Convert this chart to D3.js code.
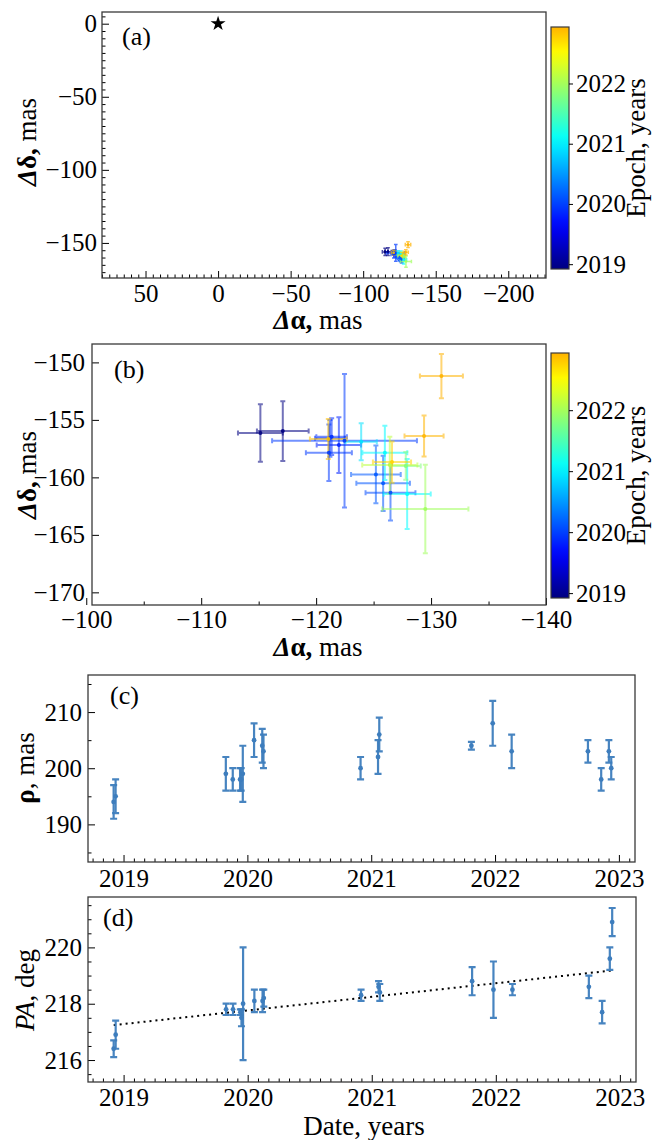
<!DOCTYPE html>
<html><head><meta charset="utf-8">
<script src="https://cdn.jsdelivr.net/npm/d3@7"></script>
<style>body{margin:0;background:#fff} svg text{font-family:'Liberation Serif','Times New Roman',serif;}</style>
</head><body>
<script>
// ---------------- data ----------------
const epochs   = [2018.920, 2018.936, 2019.826, 2019.882, 2019.941, 2019.950, 2019.963, 2020.054, 2020.120, 2020.130,
                  2020.914, 2021.055, 2021.065, 2021.809, 2021.981, 2022.134, 2022.750, 2022.857, 2022.919, 2022.938];
const dRA      = [-115.15, -117.10, -121.98, -121.35, -121.20, -121.11, -122.47, -126.47, -125.83, -125.20,
                  -123.92, -125.98, -127.92, -127.80, -129.50, -126.41, -126.60, -121.06, -129.39, -130.90];
const dRAerr   = [1.95, 2.25, 1.93, 1.33, 1.30, 2.00, 6.30, 2.17, 2.33, 2.16,
                  1.36, 1.95, 2.05, 1.30, 3.75, 2.40, 1.66, 1.60, 1.70, 1.87];
const dDec     = [-156.14, -155.97, -157.19, -156.46, -156.60, -157.86, -156.81, -161.33, -160.52, -159.74,
                  -156.90, -157.86, -161.45, -159.00, -162.75, -158.93, -158.67, -156.67, -156.40, -151.19];
const dDecErr  = [2.50, 2.60, 2.42, 1.60, 1.60, 2.46, 5.80, 2.42, 2.40, 2.52,
                  1.60, 2.36, 3.05, 1.20, 3.84, 2.47, 1.80, 1.74, 1.78, 1.93];
const rho      = [194, 195, 199, 198, 198, 198, 199, 205, 204, 203,
                  200, 202, 206, 204, 208, 203, 203, 198, 203, 200];
const rhoErr   = [3, 3, 3, 2, 2, 2, 5, 3, 3, 3,
                  2, 3, 3, 0.7, 4, 3, 2, 2, 2, 2];
const pa       = [216.4, 216.9, 217.8, 217.8, 217.7, 217.5, 218.0, 218.1, 218.1, 218.2,
                  218.3, 218.6, 218.4, 218.8, 218.5, 218.5, 218.6, 217.7, 219.6, 220.9];
const paErr    = [0.3, 0.5, 0.2, 0.2, 0.1, 0.3, 2.0, 0.4, 0.4, 0.3,
                  0.2, 0.2, 0.3, 0.5, 1.0, 0.2, 0.4, 0.4, 0.4, 0.5];
const primary  = [0, 0];                       // primary star position (a)
const fitDates = [2018.92, 2022.938];          // linear PA trend
const fitPA    = [217.24, 219.18];

const aXTicks = [50, 0, -50, -100, -150, -200];
const aYTicks = [0, -50, -100, -150];
const bXTicks = [-100, -110, -120, -130, -140];
const bYTicks = [-150, -155, -160, -165, -170];
const dateTicks = [2019, 2020, 2021, 2022, 2023];
const cYTicks = [190, 200, 210];
const dYTicks = [216, 218, 220];
const cbTicks = [2019, 2020, 2021, 2022];

// ---------------- setup ----------------
const W = 662, H = 1140;
const FONT = "'Liberation Serif','Times New Roman',serif";
const svg = d3.select("body").append("svg").attr("width", W).attr("height", H)
  .style("font-family", FONT);
svg.append("rect").attr("width", W).attr("height", H).attr("fill", "#fff");

function jet(v) {
  const c = t => Math.max(0, Math.min(1, t));
  const r = c(1.5 - Math.abs(4 * v - 3)), g = c(1.5 - Math.abs(4 * v - 2)), b = c(1.5 - Math.abs(4 * v - 1));
  return d3.rgb(r * 255, g * 255, b * 255).formatHex();
}
const cExt = d3.extent(epochs);
const colorOf = e => jet(0.7 * (e - cExt[0]) / (cExt[1] - cExt[0]));

const defs = svg.append("defs");
const grad = defs.append("linearGradient").attr("id", "cbgrad").attr("x1", 0).attr("y1", 1).attr("x2", 0).attr("y2", 0);
d3.range(0, 1.0001, 0.05).forEach(t => grad.append("stop").attr("offset", t).attr("stop-color", jet(0.7 * t)));

function styleAxis(g) {
  g.attr("font-family", FONT).attr("font-size", 25);
  g.select(".domain").remove();
  g.selectAll("text").attr("fill", "#000").attr("font-family", FONT).attr("font-size", 25);
  g.selectAll("line").attr("stroke", "#000");
}

function drawAxes(o) {
  const { x, y, xTicks, yTicks, xMinor, yMinor, xPad, yPad, xFmt, yFmt } = o;
  const left = Math.min(...x.range()), right = Math.max(...x.range());
  const top = Math.min(...y.range()), bottom = Math.max(...y.range());
  if (xMinor) svg.append("g").attr("transform", `translate(0,${bottom})`)
    .call(d3.axisBottom(x).tickValues(xMinor).tickSize(-3.5).tickFormat("")).call(styleAxis);
  if (yMinor) svg.append("g").attr("transform", `translate(${left},0)`)
    .call(d3.axisLeft(y).tickValues(yMinor).tickSize(-3.5).tickFormat("")).call(styleAxis);
  svg.append("g").attr("transform", `translate(0,${bottom})`)
    .call(d3.axisBottom(x).tickValues(xTicks).tickSize(-7).tickPadding(xPad).tickFormat(xFmt || d3.format("d"))).call(styleAxis);
  svg.append("g").attr("transform", `translate(${left},0)`)
    .call(d3.axisLeft(y).tickValues(yTicks).tickSize(-7).tickPadding(yPad).tickFormat(yFmt || d3.format("d"))).call(styleAxis);
  svg.append("rect").attr("x", left).attr("y", top).attr("width", right - left).attr("height", bottom - top)
    .attr("fill", "none").attr("stroke", "#3a3a3a").attr("stroke-width", 1.3);
}

function errPaths(g, xs, ys, xLo, xHi, yLo, yHi, color, opts) {
  const cap = opts.cap, lw = opts.lw, op = opts.op;
  for (let i = 0; i < xs.length; i++) {
    const col = typeof color === "function" ? color(i) : color;
    const gg = g.append("g").attr("stroke", col).attr("stroke-width", lw).attr("opacity", op).attr("fill", "none");
    if (xLo) {
      const a = xLo[i], b = xHi[i], yy = ys[i];
      gg.append("path").attr("d", `M${a},${yy}H${b}M${a},${yy - cap}V${yy + cap}M${b},${yy - cap}V${yy + cap}`);
    }
    if (yLo) {
      const a = yLo[i], b = yHi[i], xx = xs[i];
      gg.append("path").attr("d", `M${xx},${a}V${b}M${xx - cap},${a}H${xx + cap}M${xx - cap},${b}H${xx + cap}`);
    }
  }
  for (let i = 0; i < xs.length; i++) {
    const col = typeof color === "function" ? color(i) : color;
    g.append("circle").attr("cx", xs[i]).attr("cy", ys[i]).attr("r", opts.r).attr("fill", col).attr("opacity", opts.dotOp);
  }
}

function drawColorbar(x0, yTop, yBot) {
  const cb = d3.scaleLinear().domain(cExt).range([yBot, yTop]);
  svg.append("rect").attr("x", x0).attr("y", yTop).attr("width", 18).attr("height", yBot - yTop)
    .attr("fill", "url(#cbgrad)").attr("stroke", "#3a3a3a").attr("stroke-width", 1.2);
  svg.append("g").attr("transform", `translate(${x0 + 18},0)`)
    .call(d3.axisRight(cb).tickValues(cbTicks).tickSize(4).tickPadding(3).tickFormat(d3.format("d"))).call(styleAxis);
  svg.append("text").attr("transform", `translate(636,${(yTop + yBot) / 2}) rotate(-90)`)
    .attr("text-anchor", "middle").attr("dy", "0.35em").attr("font-size", 27).text("Epoch, years");
}

function alphaLabel(xc, yb) {
  const t = svg.append("text").attr("x", xc).attr("y", yb).attr("text-anchor", "middle").attr("font-size", 27);
  t.append("tspan").attr("font-weight", "bold").attr("font-style", "italic").text("Δ");
  t.append("tspan").attr("font-weight", "bold").text("α,");
  t.append("tspan").text(" mas");
}
function deltaLabel(xc, yc) {
  const t = svg.append("text").attr("transform", `translate(${xc},${yc}) rotate(-90)`)
    .attr("text-anchor", "middle").attr("dy", "0.35em").attr("font-size", 27);
  t.append("tspan").attr("font-weight", "bold").attr("font-style", "italic").text("Δ");
  t.append("tspan").attr("font-weight", "bold").text("δ,");
  t.append("tspan").text(" mas");
}
function panelTag(x, y, s) {
  svg.append("text").attr("x", x).attr("y", y).attr("font-size", 26).text(s);
}

// ---------------- panel (a) ----------------
{
  const x = d3.scaleLinear().domain([80, -226]).range([102, 546]);
  const y = d3.scaleLinear().domain([-174, 8]).range([278, 12]);
  drawAxes({ x, y, xTicks: aXTicks, yTicks: aYTicks,
    xMinor: d3.range(-225, 81, 5).filter(v => v % 50 !== 0),
    yMinor: d3.range(-170, 8, 5).filter(v => v % 50 !== 0), xPad: 6, yPad: 5 });
  const g = svg.append("g");
  errPaths(g, dRA.map(x), dDec.map(y),
    dRA.map((v, i) => x(v - dRAerr[i])), dRA.map((v, i) => x(v + dRAerr[i])),
    dDec.map((v, i) => y(v - dDecErr[i])), dDec.map((v, i) => y(v + dDecErr[i])),
    i => colorOf(epochs[i]), { cap: 1.8, lw: 1.5, op: 0.7, r: 1.3, dotOp: 0.9 });
  svg.append("path").attr("d", d3.symbol(d3.symbolStar, 70)())
    .attr("transform", `translate(${x(primary[0])},${y(primary[1])})`).attr("fill", "#000");
  drawColorbar(551, 27, 269);
  alphaLabel(318, 329);
  deltaLabel(27, 142);
  panelTag(122, 45, "(a)");
}

// ---------------- panel (b) ----------------
{
  const x = d3.scaleLinear().domain([-100.5, -140]).range([92, 546]);
  const y = d3.scaleLinear().domain([-171.1, -148.4]).range([605, 344]);
  drawAxes({ x, y, xTicks: bXTicks, yTicks: bYTicks, xMinor: [-105, -115, -125, -135], xPad: 5, yPad: 7 });
  const g = svg.append("g");
  errPaths(g, dRA.map(x), dDec.map(y),
    dRA.map((v, i) => x(v - dRAerr[i])), dRA.map((v, i) => x(v + dRAerr[i])),
    dDec.map((v, i) => y(v - dDecErr[i])), dDec.map((v, i) => y(v + dDecErr[i])),
    i => colorOf(epochs[i]), { cap: 2.5, lw: 2, op: 0.55, r: 2, dotOp: 0.9 });
  drawColorbar(551, 353, 598);
  alphaLabel(318, 656);
  deltaLabel(27, 475);
  panelTag(114, 378, "(b)");
}

// ---------------- panels (c), (d) ----------------
const BLUE = "#3d7dbd";
const dateMinor = d3.range(2018.75, 2023.13, 1 / 12).filter(v => Math.abs(v - Math.round(v)) > 0.01);
{
  const x = d3.scaleLinear().domain([2018.713, 2023.13]).range([88, 635]);
  const y = d3.scaleLinear().domain([183.3, 216.6]).range([862, 675]);
  drawAxes({ x, y, xTicks: dateTicks, yTicks: cYTicks, xMinor: dateMinor, yMinor: [185, 195, 205, 215], xPad: 7, yPad: 6 });
  const g = svg.append("g");
  errPaths(g, epochs.map(x), rho.map(y), null, null,
    rho.map((v, i) => y(v - rhoErr[i])), rho.map((v, i) => y(v + rhoErr[i])),
    BLUE, { cap: 3.5, lw: 2.2, op: 0.95, r: 2.4, dotOp: 1 });
  const t = svg.append("text").attr("transform", "translate(25,768) rotate(-90)")
    .attr("text-anchor", "middle").attr("dy", "0.35em").attr("font-size", 27);
  t.append("tspan").attr("font-weight", "bold").text("ρ");
  t.append("tspan").text(", mas");
  panelTag(110, 704, "(c)");
}
{
  const x = d3.scaleLinear().domain([2018.713, 2023.13]).range([88, 636]);
  const y = d3.scaleLinear().domain([215.22, 221.79]).range([1082, 897]);
  drawAxes({ x, y, xTicks: dateTicks, yTicks: dYTicks, xMinor: dateMinor,
    yMinor: d3.range(215.5, 221.8, 0.5).filter(v => Math.abs(v % 2) > 0.01), xPad: 6, yPad: 6 });
  svg.append("line").attr("x1", x(fitDates[0])).attr("y1", y(fitPA[0])).attr("x2", x(fitDates[1])).attr("y2", y(fitPA[1]))
    .attr("stroke", "#000").attr("stroke-width", 2).attr("stroke-dasharray", "2,4");
  const g = svg.append("g");
  errPaths(g, epochs.map(x), pa.map(y), null, null,
    pa.map((v, i) => y(v - paErr[i])), pa.map((v, i) => y(v + paErr[i])),
    BLUE, { cap: 3.5, lw: 2.2, op: 0.95, r: 2.4, dotOp: 1 });
  const t = svg.append("text").attr("transform", "translate(25,990) rotate(-90)")
    .attr("text-anchor", "middle").attr("dy", "0.35em").attr("font-size", 27);
  t.append("tspan").attr("font-style", "italic").text("PA");
  t.append("tspan").text(", deg");
  svg.append("text").attr("x", 364).attr("y", 1135).attr("text-anchor", "middle").attr("font-size", 27).text("Date, years");
  panelTag(103, 926, "(d)");
}
</script>
</body></html>
